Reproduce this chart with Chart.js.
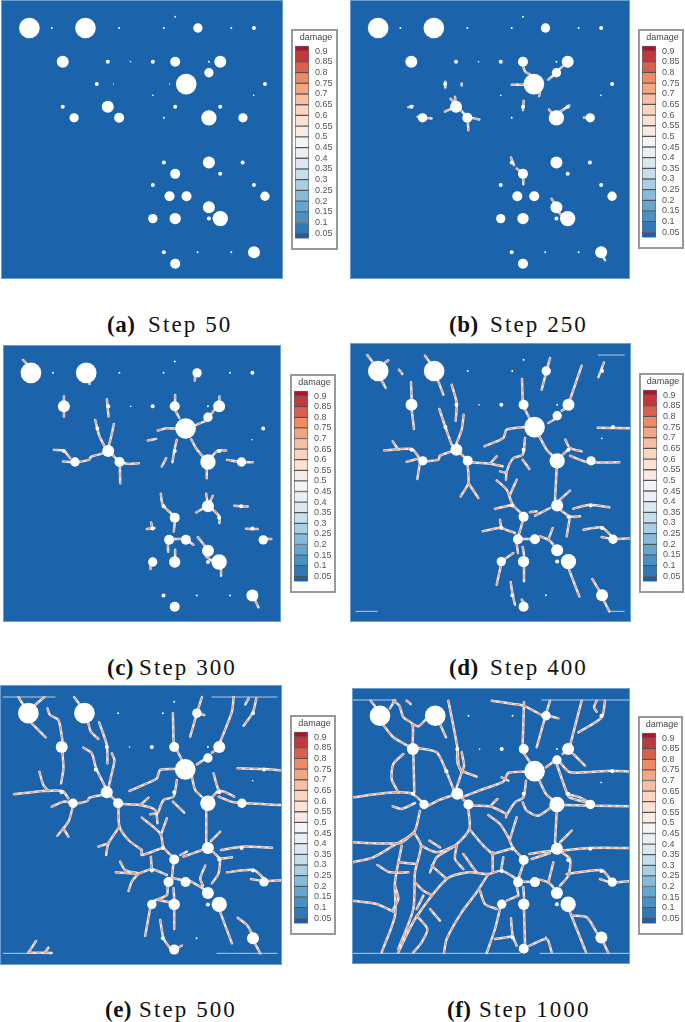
<!DOCTYPE html>
<html>
<head>
<meta charset="utf-8">
<title>damage steps</title>
<script src="https://cdn.jsdelivr.net/npm/chart.js@4"></script>
<style>
  html, body { margin: 0; background: #fff; }
  #page { position: relative; width: 685px; height: 1022px; overflow: hidden; }
  canvas { position: absolute; display: block; }
  .map { background: #1b63ab; outline: 1px solid #6a9fcc; outline-offset: -1px; }
  .key { background: #fff; outline: 2px solid #999; outline-offset: -2px; }
  .cap { position: absolute; font: 23px "Liberation Serif", serif; letter-spacing: 2.1px; color: #111; line-height: 26px; white-space: nowrap; }
  .cap.tag { font-weight: bold; letter-spacing: 0.5px; }
</style>
</head>
<body>
<div id="page"></div>
<script>
const steps = [50, 250, 300, 400, 500, 1000];
const tags = ['(a)', '(b)', '(c)', '(d)', '(e)', '(f)'];

// pores; poreGone = step where the pore is no longer visible (0 = never)
const poreX = [88,155,256,357,491,525,593,693,761, 188,323,391,458,525,626,660, 626,290,340,508,558,794, 458,760, 188,323,525,660, 222,357,491,626,728, 491,626,727, 525,660, 458,761, 508,559,794, 626, 458,525,626,660, 491,592,693,761, 525];
const poreY = [84,84,84,84,84,50,84,84,84, 185,185,185,185,185,185,185, 218,252,252,252,252,252, 286,286, 320,320,320,320, 353,353,353,353,353, 487,487,487, 521,521, 554,554, 588,588,588, 621, 655,655,655,655, 756,756,756,756, 790];
const poreD = [62,6,62,6,6,6,28,6,12, 36,12,5,12,30,6,36, 28,12,4,4,62,12, 5,5, 12,36,12,12, 28,30,6,46,28, 12,36,12, 30,12, 12,12, 30,30,28, 36, 28,34,12,46, 12,6,6,36, 30];
const poreGone = [0,400,0,0,0,1000,0,400,0, 0,0,0,0,0,0,0, 0,0,300,300,0,0, 300,0, 0,0,0,0, 0,0,300,0,0, 0,0,0, 0,0, 0,0, 0,0,0, 0, 0,0,0,0, 0,0,400,0, 0];

// colour key
const keyTicks = ['0.05','0.1','0.15','0.2','0.25','0.3','0.35','0.4','0.45','0.5','0.55','0.6','0.65','0.7','0.75','0.8','0.85','0.9'];
const keyEdges = [0.025,0.05,0.1,0.15,0.2,0.25,0.3,0.35,0.4,0.45,0.5,0.55,0.6,0.65,0.7,0.75,0.8,0.85,0.9,0.925];
const keyColors = ['#1c5fa8','#3178b6','#4a90c2','#63a6cf','#88bad9','#a9cfe4','#c5dfeb','#dbe8f0','#e9eff3','#f4f4f4','#f8ebe5','#fde2d3','#fdd5bf','#f8bfa3','#f4a582','#ef8a62','#dc5f4d','#c4373a','#b2112b'];

// cracks per step
const crackA = [];
const crackB = [
  [[548,195],[556,215],[572,225]], [[515,254],[555,254]], [[651,217],[625,238]], [[672,195],[655,210]],
  [[600,280],[597,288]], [[316,245],[316,262]], [[365,250],[365,256]], [[205,321],[218,318]],
  [[233,350],[275,355]], [[345,290],[347,310]], [[332,296],[345,310]], [[315,334],[345,322]],
  [[358,325],[380,350]], [[380,350],[418,358]], [[383,360],[385,390]], [[551,302],[549,330]],
  [[627,328],[640,345]], [[660,335],[688,316]], [[732,352],[750,352]], [[513,472],[522,495]],
  [[530,505],[548,518]], [[550,530],[550,552]], [[635,596],[645,612]], [[655,635],[668,648]], [[785,760],[795,780]]
];
const crackC = [
  [[70,60],[80,70]], [[270,125],[270,132]], [[587,110],[586,122]], [[193,170],[193,230]], [[322,178],[327,230]],
  [[527,165],[527,200]], [[527,210],[540,235]], [[660,170],[660,200]], [[645,210],[627,232]], [[627,240],[590,255]],
  [[475,272],[500,265],[530,266]], [[445,302],[470,297]], [[287,240],[293,265],[300,290],[318,325]],
  [[343,252],[335,290],[326,325]], [[163,330],[193,333],[212,355]],
  [[190,365],[225,367],[268,360],[275,350],[305,342],[325,333]], [[336,342],[358,365]],
  [[358,365],[385,372],[418,370]], [[361,375],[362,430]], [[575,298],[590,325],[610,350]],
  [[532,300],[525,330],[519,367]], [[500,355],[487,380]], [[622,385],[622,415]], [[680,332],[655,332],[637,350]],
  [[683,360],[725,367],[760,367]], [[484,462],[490,495],[525,530]], [[527,540],[523,575]], [[620,462],[626,497]],
  [[640,468],[630,490]], [[590,518],[626,497]], [[626,497],[660,530],[660,550]], [[705,498],[745,500]],
  [[455,548],[458,565]], [[442,568],[465,565]], [[740,567],[775,568]], [[510,598],[560,598]], [[560,598],[582,615]],
  [[505,610],[506,636]], [[595,592],[626,630]], [[805,597],[816,598]], [[527,630],[527,650]], [[453,680],[453,688]],
  [[620,650],[640,665]], [[665,690],[665,708]], [[760,765],[777,803]]
];
const crackD = [
  [[82,46],[100,70]], [[135,68],[145,62]], [[125,122],[137,145]], [[177,90],[187,103]], [[255,48],[275,75]],
  [[295,125],[310,165]], [[630,55],[605,150]], [[725,78],[690,180]], [[792,68],[775,113]], [[546,118],[548,180]],
  [[213,128],[215,180]], [[215,210],[222,268]], [[335,135],[350,190],[347,243]], [[298,208],[316,262],[335,315]],
  [[371,225],[365,270],[348,315]], [[553,205],[568,235]], [[625,250],[645,238]], [[665,213],[680,205]],
  [[433,320],[490,295],[500,270],[555,262]], [[773,264],[872,266]], [[133,332],[215,328],[235,350]],
  [[158,305],[175,330]], [[200,366],[240,356]], [[240,368],[232,418]], [[260,365],[295,360],[300,348],[335,335]],
  [[360,340],[383,362]], [[395,368],[450,372],[488,380]], [[470,350],[450,372]], [[383,375],[385,430],[362,470]],
  [[385,430],[415,475]], [[598,290],[620,330],[640,350]], [[555,295],[548,345],[520,355],[500,395],[498,420]],
  [[480,395],[498,400]], [[548,360],[568,388]], [[676,300],[690,325],[725,335]], [[668,345],[690,325]],
  [[690,348],[740,367],[838,368]], [[650,385],[645,480]], [[470,422],[500,450],[518,495],[548,525]],
  [[530,420],[510,465]], [[465,507],[518,495]], [[585,528],[630,505]], [[690,453],[660,480]],
  [[660,510],[690,530],[720,530]], [[690,530],[680,590]], [[700,507],[750,495],[808,503]], [[570,518],[590,515]],
  [[548,545],[535,590]], [[480,540],[485,563],[525,580]], [[428,575],[485,563]], [[730,570],[785,563],[815,590]],
  [[785,592],[820,598],[872,596]], [[540,598],[585,598]], [[600,590],[625,600],[640,615]], [[638,565],[625,600]],
  [[530,612],[534,640]], [[548,622],[552,645]], [[520,640],[484,665]], [[483,675],[470,735]], [[552,680],[552,725]],
  [[687,690],[718,770]], [[757,718],[785,765]], [[790,780],[808,815]], [[512,727],[518,765],[525,795]], [[545,780],[552,790]]
];
const crackE = [
  [[55,46],[70,70]], [[133,46],[105,70]], [[95,125],[137,167]], [[222,46],[240,70]], [[265,125],[272,150],[295,172]],
  [[297,122],[320,190],[322,245]], [[142,80],[150,100],[175,115],[187,175]], [[187,212],[190,260],[183,305]],
  [[250,198],[275,215],[288,260],[320,325]], [[335,215],[343,235],[335,275],[325,318]], [[605,46],[590,95],[570,165]],
  [[700,46],[695,90],[660,180]], [[745,50],[735,68]], [[768,50],[758,92],[730,132]], [[518,95],[520,180]],
  [[600,97],[612,100]], [[530,205],[545,235]], [[590,248],[610,235]], [[635,213],[655,200]],
  [[388,328],[440,305],[470,290],[480,265],[530,262]], [[712,260],[790,262],[845,266]],
  [[42,338],[130,328],[187,328],[205,350]], [[118,270],[130,310],[145,328]], [[155,375],[190,360],[218,362]],
  [[218,375],[205,420],[172,462]], [[190,440],[205,465]], [[235,365],[262,358],[268,348],[305,340]],
  [[332,343],[352,362]], [[368,367],[420,370],[465,385],[472,425]], [[445,348],[420,370]], [[450,398],[472,395]],
  [[355,375],[358,435],[385,475],[425,505]], [[358,435],[325,485],[318,520]], [[295,495],[325,485]],
  [[425,505],[425,520],[490,497]], [[425,408],[480,455],[490,497],[520,528]], [[500,410],[482,460]],
  [[575,285],[585,325],[610,350]], [[530,295],[520,345],[490,355],[475,390]], [[518,360],[552,393]],
  [[640,275],[655,325],[672,330],[702,345]], [[637,345],[655,325]], [[655,345],[700,362],[845,370]],
  [[618,385],[618,480]], [[660,450],[632,478]], [[550,525],[605,505]], [[540,520],[560,510]],
  [[640,512],[660,530],[695,527]], [[660,530],[655,575],[635,605]], [[662,505],[725,495],[815,498]],
  [[680,572],[760,565],[790,590]], [[752,592],[790,598],[845,596]], [[360,540],[375,565],[415,575]],
  [[347,572],[415,575],[455,563],[500,580]], [[415,575],[395,600],[385,628]], [[452,525],[455,563]],
  [[520,540],[515,590]], [[520,590],[555,597]], [[570,598],[600,615],[620,630]], [[615,552],[600,590],[608,612]],
  [[502,612],[500,640],[455,660]], [[520,620],[522,650]], [[475,655],[510,662]], [[450,680],[435,762]],
  [[522,680],[522,742]], [[660,692],[695,785]], [[712,708],[740,730],[760,765]], [[762,782],[780,815]],
  [[480,715],[490,770],[510,800]], [[535,797],[545,792]], [[108,778],[85,813]], [[135,812],[145,798]],
  [[85,813],[155,814]]
];
const crackF = [
  [[92,55],[105,72]], [[165,53],[150,78]], [[130,128],[160,165],[217,198]], [[160,55],[178,70],[190,105],[217,125],[218,185]],
  [[200,55],[212,65]], [[218,125],[235,132],[257,112]], [[300,125],[318,165]], [[325,55],[340,130],[352,195],[360,260],[410,283]],
  [[220,215],[223,330]], [[190,215],[160,245],[155,290],[175,330]], [[235,197],[290,210],[318,265],[340,320]],
  [[352,205],[352,240],[365,270]], [[365,210],[372,250],[365,270]], [[365,270],[350,315]],
  [[38,345],[130,333],[185,330],[218,335],[250,362]], [[158,372],[185,380],[225,362]], [[265,370],[300,352],[335,340]],
  [[368,350],[385,365]], [[400,370],[450,372],[500,395]], [[472,350],[450,372]],
  [[365,345],[430,320],[490,298],[505,272],[555,268]], [[485,285],[505,295]], [[455,55],[520,65],[550,70],[605,98]],
  [[552,60],[548,185]], [[630,55],[618,95],[590,195]], [[625,100],[655,108]], [[725,55],[690,190]],
  [[770,55],[762,75],[770,88]], [[795,55],[785,105],[715,150]], [[553,215],[570,240]], [[618,255],[640,238]],
  [[668,215],[680,205]], [[700,215],[735,250]], [[660,240],[690,270],[815,265],[870,268]],
  [[650,245],[680,330],[688,345],[745,362]], [[680,335],[720,345],[750,362]], [[598,295],[618,335],[635,350]],
  [[558,295],[550,345],[525,360],[500,398],[498,405]], [[548,360],[560,385],[595,400],[640,370]], [[670,368],[870,372]],
  [[650,390],[645,480]], [[695,445],[660,480]], [[445,398],[480,425],[505,465],[518,495],[545,525]], [[530,405],[510,470]],
  [[458,515],[520,497]], [[458,510],[458,570]], [[568,515],[635,505]], [[575,530],[630,512]],
  [[665,510],[690,530],[685,580],[660,610]], [[680,575],[785,563],[810,590]], [[667,505],[750,497],[870,497]],
  [[780,590],[815,600],[870,596]], [[490,525],[483,565]], [[550,545],[535,590]],
  [[240,385],[222,450],[160,490],[100,525],[38,540]], [[38,480],[180,482],[222,450]],
  [[385,380],[388,440],[345,490],[290,525],[270,570]], [[388,440],[430,490],[458,515]],
  [[222,450],[243,490],[225,570],[220,680],[175,800]], [[243,490],[290,510],[345,490]],
  [[185,490],[165,600],[165,700],[125,810]], [[268,475],[300,495]], [[350,490],[345,530],[370,560]],
  [[370,515],[395,550],[410,570]], [[275,550],[320,590]], [[112,548],[150,570],[205,570]], [[178,540],[230,545]],
  [[165,610],[175,650],[160,680]], [[38,655],[110,665],[165,690]], [[230,680],[250,640]], [[225,600],[250,625],[275,638]],
  [[175,810],[225,710],[320,590],[385,570],[445,575],[485,565],[530,590]], [[230,700],[262,740],[245,780],[220,810]],
  [[270,680],[300,715]], [[445,575],[410,630],[365,690],[320,770],[312,812]], [[420,625],[435,665],[470,680]],
  [[500,655],[535,640]], [[530,612],[535,635]], [[550,615],[552,645]], [[480,680],[465,740],[440,812]],
  [[552,682],[555,785]], [[513,708],[518,760],[530,790]], [[465,770],[518,762]], [[568,790],[620,770],[635,810]],
  [[690,690],[738,810]], [[695,700],[740,705],[770,750]], [[790,780],[805,812]], [[600,592],[625,600],[640,615]],
  [[640,540],[625,600]], [[545,598],[585,598]]
];
// thin lines along the top and bottom edges
const edgeD = [[[775,46],[853,46]], [[48,815],[112,815]], [[808,815],[853,815]]];
const edgeE = [[[10,46],[165,46]], [[635,46],[830,46]], [[10,815],[155,815]], [[650,815],[830,815]]];
const edgeF = [[[36,53],[160,53]], [[605,53],[870,53]], [[36,813],[540,813]], [[600,813],[870,813]]];

const cracks = [crackA, crackB, crackC, crackD, crackE, crackF];
const edges = [[], [], [], edgeD, edgeE, edgeF];

// page layout: crop offset, panel box inside the crop, key box, caption positions
const layout = [
  { ox: 0, oy: 0, l: 3, r: 848, t: 0, b: 836, key: [291, 29, 47, 221], tagX: 107, stepX: 148, capY: 312 },
  { ox: 340, oy: 0, l: 30, r: 870, t: 0, b: 836, key: [638, 29, 46, 220], tagX: 449, stepX: 490, capY: 312 },
  { ox: 0, oy: 340, l: 10, r: 845, t: 15, b: 847, key: [290, 374, 46, 219], tagX: 107, stepX: 139, capY: 655 },
  { ox: 340, oy: 340, l: 30, r: 873, t: 10, b: 847, key: [639, 373, 45, 220], tagX: 449, stepX: 490, capY: 655 },
  { ox: 0, oy: 682, l: 0, r: 845, t: 10, b: 850, key: [290, 715, 46, 220], tagX: 105, stepX: 139, capY: 997 },
  { ox: 340, oy: 682, l: 36, r: 870, t: 17, b: 845, key: [638, 716, 45, 219], tagX: 447, stepX: 479, capY: 997 }
];

const page = document.getElementById('page');

function addCanvas(cls, left, top, w, h) {
  const c = document.createElement('canvas');
  c.className = cls;
  c.width = w;
  c.height = h;
  c.style.left = left + 'px';
  c.style.top = top + 'px';
  c.style.width = w + 'px';
  c.style.height = h + 'px';
  page.appendChild(c);
  return c;
}

function addText(cls, left, top, text) {
  const s = document.createElement('span');
  s.className = cls;
  s.style.left = left + 'px';
  s.style.top = top + 'px';
  s.textContent = text;
  page.appendChild(s);
}

function lineSet(pts, color, width, dash) {
  return {
    data: pts.map(p => ({ x: p[0], y: p[1] })),
    showLine: true,
    pointRadius: 0,
    borderColor: color,
    borderWidth: width,
    borderDash: dash,
    borderCapStyle: 'round',
    borderJoinStyle: 'round',
    tension: 0.25
  };
}

function drawMap(i) {
  const p = layout[i];
  const w = Math.round((p.r - p.l) / 3);
  const h = Math.round((p.b - p.t) / 3);
  const c = addCanvas('map', Math.round(p.ox + p.l / 3), Math.round(p.oy + p.t / 3), w, h);

  const pores = poreX.map((x, k) => ({ x: x, y: poreY[k], r: poreD[k] / 6, gone: poreGone[k] }))
    .filter(q => !q.gone || steps[i] < q.gone);

  // first dataset is painted last, so pores go first
  const sets = [{
    type: 'bubble',
    data: pores,
    xAxisID: 'poreX',
    yAxisID: 'poreY',
    backgroundColor: '#fff',
    borderWidth: 0
  }];
  cracks[i].forEach(k => sets.push(lineSet(k, '#ee9678', 1.2, [4, 4])));
  cracks[i].forEach(k => sets.push(lineSet(k, '#e8e6e6', 2.5)));
  edges[i].forEach(k => sets.push(lineSet(k, '#b9cfe2', 1)));

  new Chart(c, {
    type: 'scatter',
    data: { datasets: sets },
    options: {
      responsive: false,
      animation: false,
      events: [],
      layout: { padding: 0, autoPadding: false },
      plugins: { legend: { display: false }, tooltip: { enabled: false } },
      scales: {
        x: { type: 'linear', display: false, min: p.l, max: p.r },
        y: { type: 'linear', display: false, min: p.t, max: p.b, reverse: true },
        poreX: { type: 'linear', axis: 'x', display: false, min: 3, max: 848 },
        poreY: { type: 'linear', axis: 'y', display: false, min: 0, max: 836, reverse: true }
      }
    }
  });
}

function drawKey(i) {
  const k = layout[i].key;
  const c = addCanvas('key', k[0], k[1], k[2], k[3]);
  new Chart(c, {
    type: 'bar',
    data: {
      labels: ['damage'],
      datasets: keyColors.map((col, n) => ({
        data: [[keyEdges[n], keyEdges[n + 1]]],
        backgroundColor: col,
        borderColor: 'rgba(50,55,60,0.75)',
        borderWidth: 1,
        borderSkipped: false,
        grouped: false,
        barPercentage: 1,
        categoryPercentage: 1
      }))
    },
    options: {
      responsive: false,
      animation: false,
      events: [],
      layout: { padding: { left: 4, top: 0, bottom: 9, right: 1 }, autoPadding: false },
      plugins: {
        legend: { display: false },
        tooltip: { enabled: false },
        title: {
          display: true,
          text: 'damage',
          align: 'center',
          color: '#444',
          font: { family: 'Liberation Sans', size: 9, weight: 'normal' },
          padding: { top: 3, bottom: 3 }
        }
      },
      scales: {
        x: { display: false },
        y: {
          type: 'linear',
          position: 'right',
          min: keyEdges[0],
          max: keyEdges[keyEdges.length - 1],
          grid: { display: false, drawTicks: false },
          border: { display: false },
          afterFit: s => { s.width = k[2] - 19; },
          afterBuildTicks: s => { s.ticks = keyTicks.map(t => ({ value: parseFloat(t) })); },
          ticks: {
            autoSkip: false,
            padding: 6,
            color: '#555',
            font: { family: 'Liberation Sans', size: 9 },
            callback: v => keyTicks.find(t => parseFloat(t) === v)
          }
        }
      }
    }
  });
}

steps.forEach((s, i) => {
  drawMap(i);
  drawKey(i);
  addText('cap tag', layout[i].tagX, layout[i].capY, tags[i]);
  addText('cap', layout[i].stepX, layout[i].capY, 'Step ' + s);
});
</script>
</body>
</html>
